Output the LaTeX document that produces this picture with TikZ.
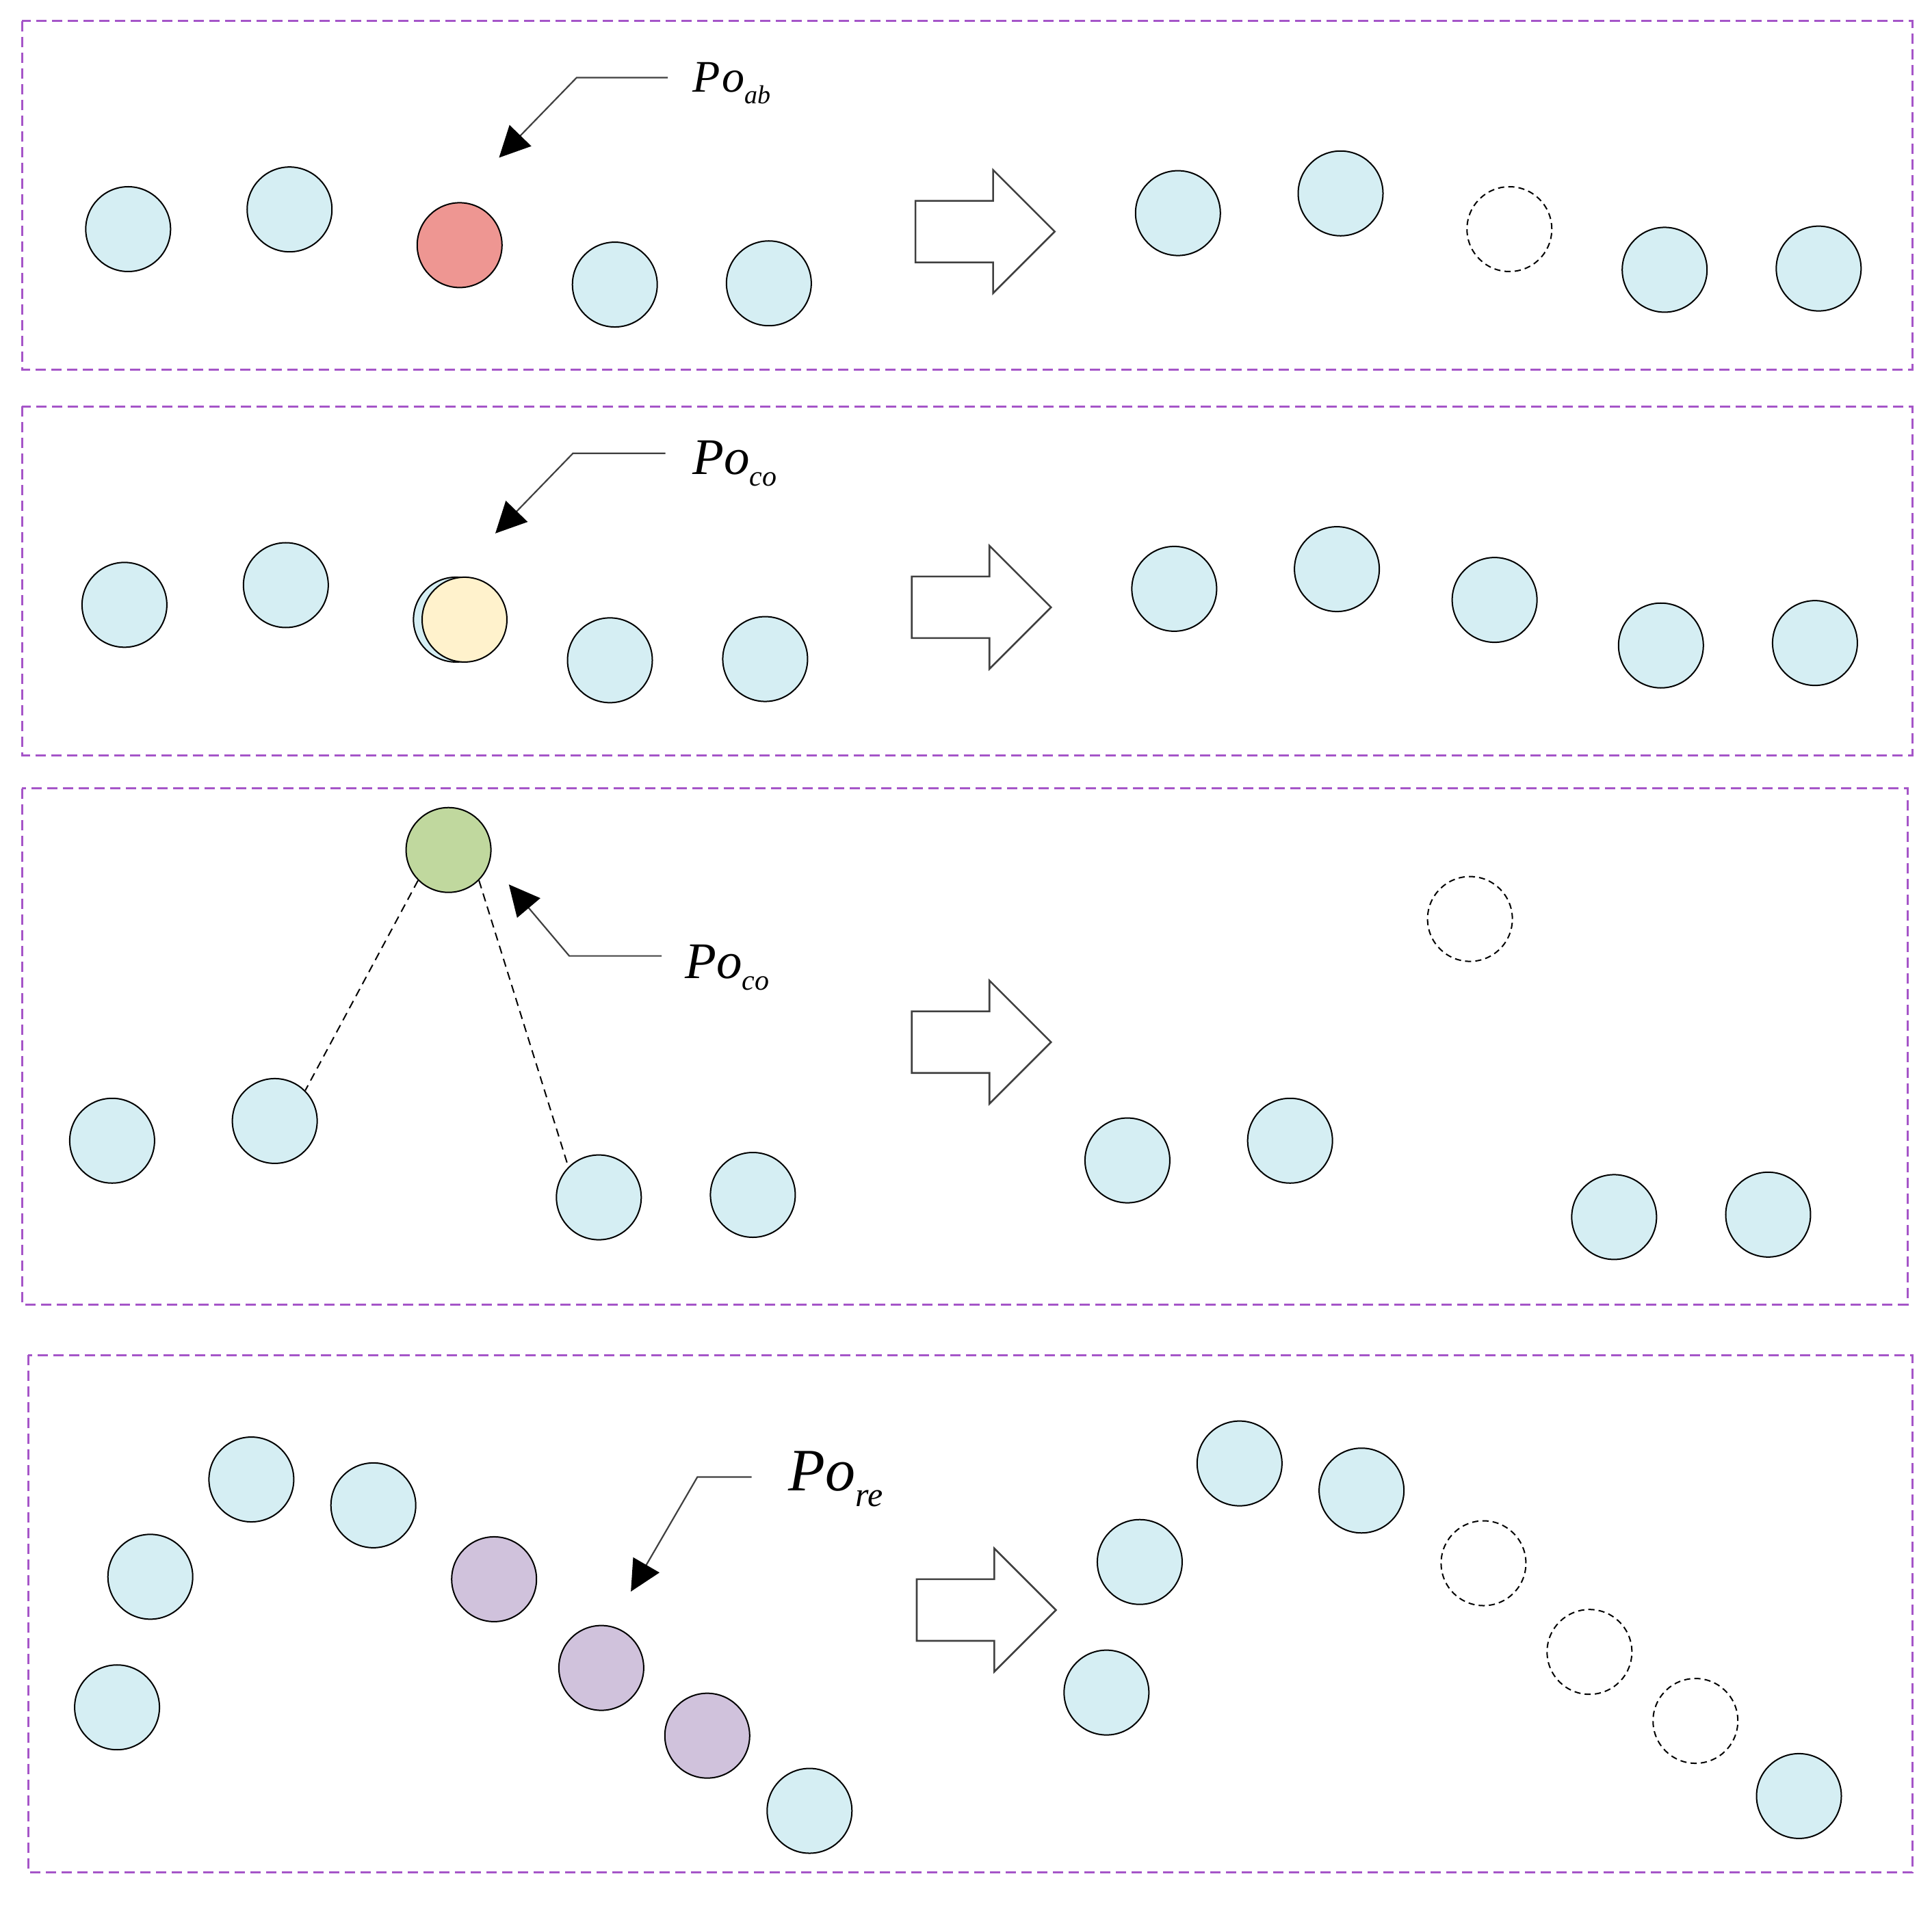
\documentclass[tikz,border=0pt]{standalone}
\usepackage{fontspec}
\setmainfont{Liberation Serif}[ItalicFont={Liberation Serif Italic}]
\usetikzlibrary{arrows.meta}
\definecolor{cblue}{RGB}{213,238,243}
\definecolor{cred}{RGB}{238,150,146}
\definecolor{cyel}{RGB}{255,242,204}
\definecolor{cgreen}{RGB}{192,216,158}
\definecolor{cpurp}{RGB}{208,194,220}
\definecolor{cframe}{RGB}{165,85,200}
\definecolor{cline}{RGB}{64,64,64}
\begin{document}
\begin{tikzpicture}[x=1.801pt,y=-1.801pt,
  ball/.style={circle,draw=black,line width=2pt,minimum size=124pt,inner sep=0pt},
  bb/.style={ball,fill=cblue},
  rb/.style={ball,fill=cred},
  yb/.style={ball,fill=cyel},
  gb/.style={ball,fill=cgreen},
  pb/.style={ball,fill=cpurp},
  eb/.style={circle,draw=black,line width=2pt,minimum size=124pt,inner sep=0pt,dash pattern=on 9pt off 6pt},
  frame/.style={draw=cframe,line width=3pt,dash pattern=on 15pt off 8pt},
  leader/.style={draw=cline,line width=2.2pt,-{Triangle[length=45pt,width=44pt,color=black]}},
  blk/.style={draw=cline,line width=2.6pt,line join=miter},
  conn/.style={draw=black,line width=2pt,dash pattern=on 12pt off 8pt},
  lbl/.style={inner sep=0pt,anchor=base west,font=\itshape}]
\useasboundingbox (0,0) rectangle (1568,1551);
% frames
\draw[frame] (18,17) rectangle (1552,300);
\draw[frame] (18,330) rectangle (1552,613);
\draw[frame] (18,640) rectangle (1548,1059);
\draw[frame] (23,1100) rectangle (1552,1520);
% block arrow macro
\newcommand{\blockarr}[2]{%
  \draw[blk] (#1,#2-25) -- (#1+63,#2-25) -- (#1+63,#2-50) -- (#1+113,#2) -- (#1+63,#2+50) -- (#1+63,#2+25) -- (#1,#2+25) -- cycle;}
% ---------- panel 1 ----------
\node[bb] (a1) at (104,186) {};
\node[bb] (a2) at (235,170) {};
\node[rb] (a3) at (373,199) {};
\node[bb] (a4) at (499,231) {};
\node[bb] (a5) at (624,230) {};
\blockarr{743}{188}
\node[bb] (b1) at (956,173) {};
\node[bb] (b2) at (1088,157) {};
\node[eb] (b3) at (1225,186) {};
\node[bb] (b4) at (1351,219) {};
\node[bb] (b5) at (1476,218) {};
\node[lbl] (L1) at (562,74.6) {\fontsize{66}{72}\selectfont P\kern3pt o\raisebox{-17pt}{\fontsize{38}{42}\selectfont ab}};
\coordinate (L1h) at (542,63);
\coordinate (L1k) at (468,63);
\coordinate (L1t) at (405,128);
\draw[leader] (L1h) -- (L1k) -- (L1t);
% ---------- panel 2 ----------
\node[bb] (c1) at (101,491) {};
\node[bb] (c2) at (232,475) {};
\node[bb] (c3) at (370,503) {};
\node[yb] (c3y) at (377,503) {};
\node[bb] (c4) at (495,536) {};
\node[bb] (c5) at (621,535) {};
\blockarr{740}{493}
\node[bb] (d1) at (953,478) {};
\node[bb] (d2) at (1085,462) {};
\node[bb] (d3) at (1213,487) {};
\node[bb] (d4) at (1348,524) {};
\node[bb] (d5) at (1473,522) {};
\node[lbl] (L2) at (562,385) {\fontsize{75}{82}\selectfont Po\raisebox{-17pt}{\fontsize{42}{46}\selectfont co}};
\coordinate (L2h) at (540,368);
\coordinate (L2k) at (465,368);
\coordinate (L2t) at (402,433);
\draw[leader] (L2h) -- (L2k) -- (L2t);
% ---------- panel 3 ----------
\node[gb] (g) at (364,690) {};
\node[bb] (e1) at (91,926) {};
\node[bb] (e2) at (223,910) {};
\node[bb] (e3) at (486,972) {};
\node[bb] (e4) at (611,970) {};
\draw[conn] (g.225) -- (e2.45);
\draw[conn] (g.-45) -- (e3.135);
\node[lbl] (L3) at (556,794) {\fontsize{75}{82}\selectfont Po\raisebox{-17pt}{\fontsize{42}{46}\selectfont co}};
\coordinate (L3h) at (537,776);
\coordinate (L3k) at (462,776);
\coordinate (L3t) at (413,718);
\draw[leader] (L3h) -- (L3k) -- (L3t);
\blockarr{740}{846}
\node[eb] (f0) at (1193,746) {};
\node[bb] (f1) at (915,942) {};
\node[bb] (f2) at (1047,926) {};
\node[bb] (f3) at (1310,988) {};
\node[bb] (f4) at (1435,986) {};
% ---------- panel 4 ----------
\node[bb] (h1) at (95,1386) {};
\node[bb] (h2) at (122,1280) {};
\node[bb] (h3) at (204,1201) {};
\node[bb] (h4) at (303,1222) {};
\node[pb] (h5) at (401,1282) {};
\node[pb] (h6) at (488,1354) {};
\node[pb] (h7) at (574,1409) {};
\node[bb] (h8) at (657,1470) {};
\node[lbl] (L4) at (640,1210) {\fontsize{88}{94}\selectfont Po\raisebox{-23pt}{\fontsize{50}{54}\selectfont re}};
\coordinate (L4h) at (610,1199);
\coordinate (L4k) at (566,1199);
\coordinate (L4t) at (512,1292);
\draw[leader] (L4h) -- (L4k) -- (L4t);
\blockarr{744}{1307}
\node[bb] (k1) at (898,1374) {};
\node[bb] (k2) at (925,1268) {};
\node[bb] (k3) at (1006,1188) {};
\node[bb] (k4) at (1105,1210) {};
\node[eb] (k5) at (1204,1269) {};
\node[eb] (k6) at (1290,1341) {};
\node[eb] (k7) at (1376,1397) {};
\node[bb] (k8) at (1460,1458) {};
\end{tikzpicture}
\end{document}
